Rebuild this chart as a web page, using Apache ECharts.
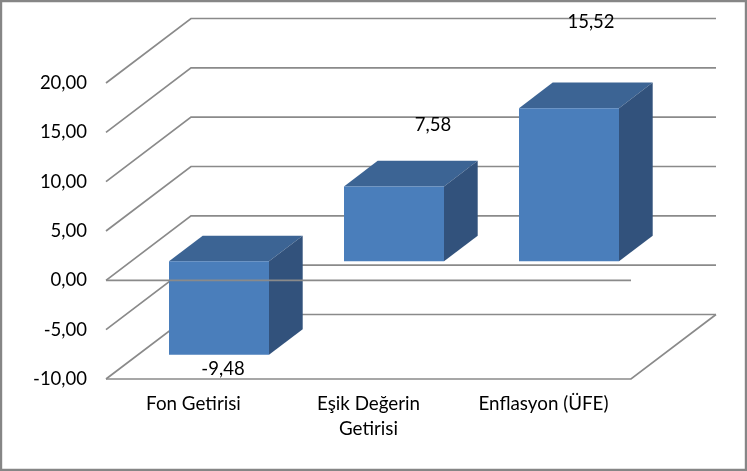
<!DOCTYPE html>
<html><head><meta charset="utf-8">
<style>html,body{margin:0;padding:0;background:#fff}#c{width:747px;height:471px}</style>
<script src="https://cdn.jsdelivr.net/npm/echarts@6/dist/echarts.min.js"></script>
</head><body><div id="c"></div>
<script>
const categories = ['Fon Getirisi', 'Eşik Değerin\nGetirisi', 'Enflasyon (ÜFE)'];
const values = [-9.48, 7.58, 15.52];
const gridTicks = [-10, -5, 0, 5, 10, 15, 20];
const fmt = v => v.toFixed(2).replace('.', ',');

// 3D projection of the Excel-style chart (pixels)
const WALL = [85, -64.5], BAR_FRONT = [25.5, -19], BAR_DEPTH = [33.7, -25.7], BAR_RATIO = 100 / 175;
const LABEL_SHIFT = [[4, 14], [39, -62], [22, -86]];
const FONT = 'Lato, Carlito, "Open Sans", sans-serif', LINE = '#8a8a8a', LW = 1.7;
const pl = (pts, extra) => ({ type: 'polyline', shape: { points: pts }, style: Object.assign({ stroke: LINE, lineWidth: LW, fill: null }, extra || {}) });
const poly = (pts, fill) => ({ type: 'polygon', shape: { points: pts }, style: { fill: fill, stroke: null } });
function edges(api) {
  const band = api.size([1, 0])[0];
  return [api.coord([0, 0])[0] - band / 2, api.coord([categories.length - 1, 0])[0] + band / 2, band];
}
const chart = echarts.init(document.getElementById('c'), null, { renderer: 'canvas' });
chart.setOption({
  animation: false,
  backgroundColor: '#fff',
  grid: { left: 106, width: 525, top: 83, height: 296 },
  xAxis: { type: 'category', data: categories, axisLine: { show: false }, axisTick: { show: false }, splitLine: { show: false },
    axisLabel: { color: '#000', fontFamily: FONT, fontSize: 18.8, lineHeight: 25, margin: 12, interval: 0 } },
  yAxis: { type: 'value', min: -10, max: 20, interval: 5, axisLine: { show: false }, axisTick: { show: false }, splitLine: { show: false },
    axisLabel: { color: '#000', fontFamily: FONT, fontSize: 18.5, margin: 19, formatter: fmt } },
  graphic: [{ type: 'rect', z: 100, silent: true, shape: { x: 1, y: 1, width: 745, height: 469 }, style: { fill: null, stroke: '#868686', lineWidth: 2.4 } }],
  series: [
    { type: 'custom', z: 1, silent: true, data: gridTicks.map(v => [v]), encode: { x: -1, y: 0 },
      renderItem(params, api) {
        const v = api.value(0), [l, r] = edges(api), y = api.coord([0, v])[1];
        const kids = [pl([[l, y], [l + WALL[0], y + WALL[1]], [r + WALL[0], y + WALL[1]]])];
        if (v === gridTicks[0]) kids.push(pl([[l, y], [r, y], [r + WALL[0], y + WALL[1]]]));
        return { type: 'group', children: kids };
      } },
    { type: 'custom', z: 2, silent: true, data: values.map((v, i) => [i, v]), encode: { x: 0, y: 1 },
      renderItem(params, api) {
        const i = api.value(0), v = api.value(1), band = api.size([1, 0])[0], w = band * BAR_RATIO;
        const cx = api.coord([i, 0])[0] + BAR_FRONT[0], x0 = cx - w / 2, x1 = cx + w / 2;
        const y0 = api.coord([i, 0])[1] + BAR_FRONT[1], yv = api.coord([i, v])[1] + BAR_FRONT[1];
        const t = Math.min(y0, yv), b = Math.max(y0, yv), dx = BAR_DEPTH[0], dy = BAR_DEPTH[1];
        const s = LABEL_SHIFT[i], anchor = v < 0 ? b : t;
        return { type: 'group', children: [
          poly([[x0, t], [x1, t], [x1 + dx, t + dy], [x0 + dx, t + dy]], '#3c6494'),
          poly([[x1, t], [x1 + dx, t + dy], [x1 + dx, b + dy], [x1, b]], '#32527c'),
          poly([[x0, t], [x1, t], [x1, b], [x0, b]], '#4a7ebb'),
          { type: 'text', z2: 5, style: { text: fmt(v), x: cx + s[0], y: anchor + s[1], align: 'center', verticalAlign: 'middle', fill: '#000', font: '18.5px ' + FONT } }
        ] };
      } },
    { type: 'custom', z: 3, silent: true, data: [[0]], encode: { x: -1, y: 0 },
      renderItem(params, api) {
        const [l, r] = edges(api), y = api.coord([0, api.value(0)])[1];
        return pl([[l, y], [r, y]]);
      } }
  ]
});
</script></body></html>
